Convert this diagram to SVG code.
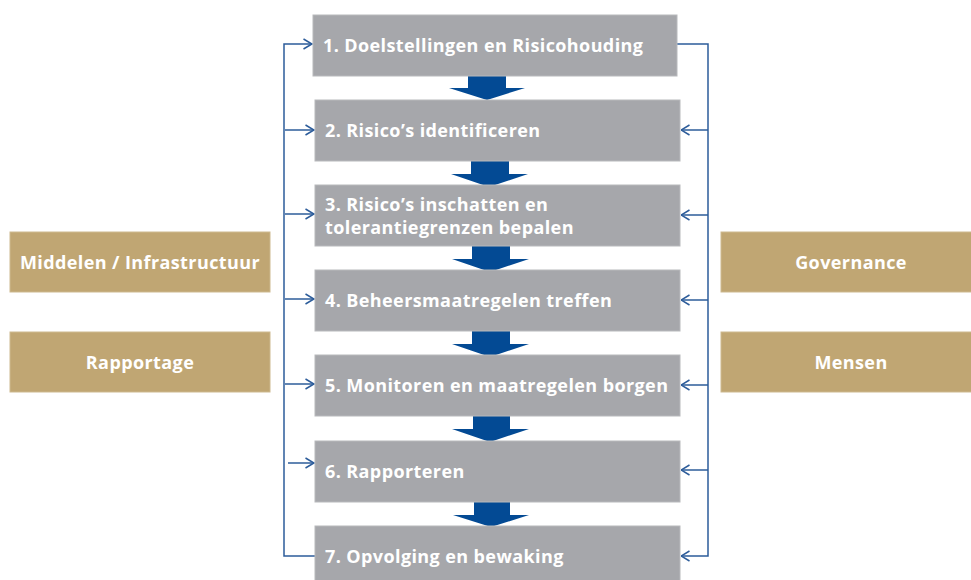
<svg xmlns="http://www.w3.org/2000/svg" width="971" height="580" viewBox="0 0 971 580">
<defs>
<style>
.step{fill:#A6A7AB;stroke:#B8B9BC;stroke-width:1}
.side{fill:#C0A673;stroke:#CDB98F;stroke-width:1}
.t{font-family:"Open Sans","Liberation Sans",sans-serif;font-weight:bold;font-size:18px;letter-spacing:0.4px;fill:#FFFFFF}
.tc{font-family:"Open Sans","Liberation Sans",sans-serif;font-weight:bold;font-size:18px;letter-spacing:0.4px;fill:#FFFFFF;text-anchor:middle}
.flow{fill:#034A94}
.ln{fill:none;stroke:#2C5C9A;stroke-width:1.5}
</style>
<marker id="chev" viewBox="0 0 10 12" refX="9.5" refY="6" markerWidth="10" markerHeight="12" markerUnits="userSpaceOnUse" orient="auto">
<path d="M1,1 L9.5,6 L1,11" fill="none" stroke="#2C5C9A" stroke-width="1.5"/>
</marker>
</defs>
<rect width="971" height="580" fill="#FFFFFF"/>

<g id="connectors">
<path class="ln" d="M315,556 H284 V44 H312" marker-end="url(#chev)"/>
<path class="ln" d="M285,130 H314" marker-end="url(#chev)"/>
<path class="ln" d="M285,214 H314" marker-end="url(#chev)"/>
<path class="ln" d="M285,299 H314" marker-end="url(#chev)"/>
<path class="ln" d="M285,384 H314" marker-end="url(#chev)"/>
<path class="ln" d="M288,463 H314" marker-end="url(#chev)"/>
<path class="ln" d="M677,44 H708 V556 H681" marker-end="url(#chev)"/>
<path class="ln" d="M708,130 H681" marker-end="url(#chev)"/>
<path class="ln" d="M708,215 H681" marker-end="url(#chev)"/>
<path class="ln" d="M708,300 H681" marker-end="url(#chev)"/>
<path class="ln" d="M708,385 H681" marker-end="url(#chev)"/>
<path class="ln" d="M708,470 H681" marker-end="url(#chev)"/>
<path class="flow" d="M468,76 H506 V88 H525 L487,100 L449,88 H468 Z"/>
<path class="flow" d="M471,161 H509 V174 H528 L489,187 L451,174 H471 Z"/>
<path class="flow" d="M472,246 H510 V259 H529 L490,272 L452,259 H472 Z"/>
<path class="flow" d="M472,331 H510 V344 H529 L490,357 L452,344 H472 Z"/>
<path class="flow" d="M473,416 H510 V429 H529 L490,442 L452,429 H473 Z"/>
<path class="flow" d="M474,502 H510 V515 H529 L491,527 L453,515 H474 Z"/>
</g>

<g id="step1"><rect class="step" x="313" y="15" width="364" height="61"/><text class="t" x="323" y="52">1. Doelstellingen en Risicohouding</text></g>
<g id="step2"><rect class="step" x="315" y="100" width="365" height="61"/><text class="t" x="325" y="137">2. Risico’s identificeren</text></g>
<g id="step3"><rect class="step" x="315" y="185" width="365" height="61"/><text class="t" x="325" y="211">3. Risico’s inschatten en</text><text class="t" x="325" y="234">tolerantiegrenzen bepalen</text></g>
<g id="step4"><rect class="step" x="315" y="270" width="365" height="61"/><text class="t" x="325" y="307">4. Beheersmaatregelen treffen</text></g>
<g id="step5"><rect class="step" x="315" y="355" width="365" height="61"/><text class="t" x="325" y="392">5. Monitoren en maatregelen borgen</text></g>
<g id="step6"><rect class="step" x="315" y="441" width="365" height="61"/><text class="t" x="325" y="478">6. Rapporteren</text></g>
<g id="step7"><rect class="step" x="315" y="526" width="365" height="60"/><text class="t" x="325" y="563">7. Opvolging en bewaking</text></g>

<g id="middelen"><rect class="side" x="10" y="232" width="260" height="60"/><text class="tc" x="140" y="269">Middelen / Infrastructuur</text></g>
<g id="rapportage"><rect class="side" x="10" y="332" width="260" height="60"/><text class="tc" x="140" y="369">Rapportage</text></g>
<g id="governance"><rect class="side" x="721" y="232" width="255" height="60"/><text class="tc" x="851" y="269">Governance</text></g>
<g id="mensen"><rect class="side" x="721" y="332" width="255" height="60"/><text class="tc" x="851" y="369">Mensen</text></g>
</svg>
